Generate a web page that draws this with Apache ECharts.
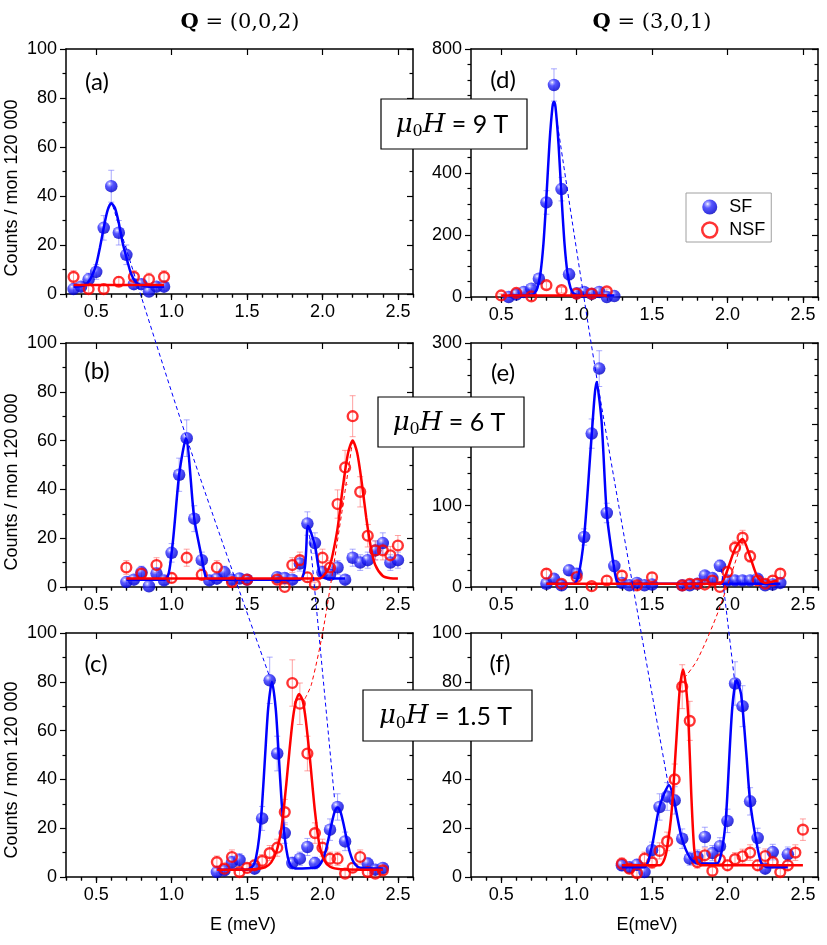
<!DOCTYPE html>
<html>
<head>
<meta charset="utf-8">
<script src="https://cdn.jsdelivr.net/npm/echarts@6/dist/echarts.min.js"></script>
<style>
  html, body { margin: 0; padding: 0; background: #fff; }
  #chart { width: 827px; height: 945px; }
</style>
</head>
<body>
<div id="chart"></div>
<script>
// axes
const xMin = 0.3, xMax = 2.6;
const xMajor = [0.5, 1.0, 1.5, 2.0, 2.5];
const yMaxes = [100, 100, 100, 800, 300, 100];
const yIntervals = [20, 20, 20, 200, 100, 20];
const yMinorSplits = [2, 2, 2, 4, 5, 2];

// [E, counts, error]  -- SF = spin flip (blue), NSF = non spin flip (red)
// (a) Q=(0,0,2), 9 T
const sfA = [[0.35,2,1.5],[0.40,3,1.7],[0.45,6,2.5],[0.50,9,3],[0.55,27,5],[0.60,44,6.5],[0.65,25,5],
  [0.70,16,4],[0.75,4,2],[0.80,4,2],[0.85,1,1],[0.90,3,1.7],[0.95,3,1.7]];
const nsfA = [[0.35,7,2.5],[0.45,2,1.5],[0.55,2,1.5],[0.65,5,2],[0.75,7,2.5],[0.85,6,2.5],[0.95,7,2.5]];
const sfFitA = [[0.35,3],[0.42,3.5],[0.46,6],[0.50,12],[0.525,19],[0.55,27],[0.575,34],[0.60,37],[0.625,35],
  [0.65,29],[0.675,21],[0.70,15],[0.73,8.5],[0.76,5],[0.80,3.5],[0.85,3],[0.95,3]];
const nsfFitA = [[0.35,3.7],[0.95,3.7]];

// (b) Q=(0,0,2), 6 T
const sfB = [[0.70,2,1.5],[0.75,3,1.7],[0.80,6,2.5],[0.85,0.3,1],[0.90,5.5,2.3],[0.95,2.7,1.7],[1.00,14,3.8],
  [1.05,46,6.8],[1.10,61,7.5],[1.15,28,5.3],[1.20,11,3.3],[1.25,2.7,1.7],[1.30,3.4,1.8],[1.35,6,2.5],
  [1.40,3,1.7],[1.45,3.5,1.9],[1.50,3,1.7],[1.70,4,2],[1.75,3.7,1.9],[1.80,3,1.7],[1.85,9.6,3.1],
  [1.90,26,4.8],[1.95,18,4.2],[2.00,6,2.5],[2.05,5,2.2],[2.10,8,2.8],[2.15,3,1.7],[2.20,12,3.5],
  [2.25,10,3.2],[2.30,11,3.3],[2.35,15,3.9],[2.40,18,4.2],[2.45,10,3.2],[2.50,11,3.3]];
const nsfB = [[0.70,8,2.8],[0.80,5.5,2.3],[0.90,9,3],[1.00,3.7,1.9],[1.10,12,3.5],[1.20,5,2.2],[1.30,8,2.8],
  [1.40,2,1.4],[1.50,3,1.7],[1.70,3,1.7],[1.75,0,1],[1.80,9,3],[1.85,11,3.3],[1.90,4,2],[1.95,1,1],
  [2.00,12,3.5],[2.05,8,2.8],[2.10,34,5.8],[2.15,49,7],[2.20,70,8.4],[2.25,39,6.2],[2.30,21,4.6],
  [2.35,15,3.9],[2.40,15,3.9],[2.45,13,3.6],[2.50,17,4.1]];
const sfFitB = [[0.70,3],[0.955,3],[1.00,14],[1.05,46],[1.095,61],[1.15,28],[1.20,12],[1.227,4],[1.26,3],
  [1.85,3],[1.905,25],[1.95,17],[1.985,5],[2.03,3.5],[2.15,3.5]];
const nsfFitB = [[0.70,3.5],[1.98,3.5],[2.03,6.5],[2.05,9],[2.07,14],[2.10,24],[2.135,41],[2.17,55],[2.20,60],
  [2.23,55],[2.26,43],[2.29,28.5],[2.32,16.5],[2.35,9],[2.40,4.5],[2.45,3.6],[2.50,3.5]];

// (c) Q=(0,0,2), 1.5 T
const sfC = [[1.30,2,1.5],[1.35,2.7,1.7],[1.40,6,2.5],[1.45,7,2.6],[1.55,3.4,1.8],[1.60,24,4.9],[1.65,80.6,9.5],
  [1.70,50.6,7.1],[1.75,18,4.2],[1.80,5.7,2.4],[1.85,7.5,2.7],[1.90,12.3,3.5],[1.95,5.7,2.4],[2.05,19.4,4.4],
  [2.10,28.7,5.4],[2.15,14.6,3.8],[2.30,5.5,2.3],[2.35,3,1.7],[2.40,3.7,1.9]];
const nsfC = [[1.30,6.1,2.5],[1.35,3.4,1.8],[1.40,8.2,2.9],[1.45,2,1.4],[1.50,3.7,1.9],[1.55,4.8,2.2],
  [1.60,6.6,2.6],[1.65,9.8,3.1],[1.70,12,3.5],[1.75,26.6,5.2],[1.80,79.5,9.5],[1.85,71,8.5],[1.90,50.6,7.1],
  [1.95,18,4.2],[2.00,12,3.5],[2.05,7.5,2.7],[2.10,7.5,2.7],[2.15,1.4,1.2],[2.20,3.8,1.9],[2.25,8.2,2.9],
  [2.30,2,1.4],[2.35,1.4,1.2],[2.40,2.7,1.6]];
const sfFitC = [[1.30,3],[1.50,3],[1.54,4.6],[1.56,8.1],[1.58,16],[1.60,30],[1.62,50],[1.64,69],[1.665,80],
  [1.69,69],[1.71,50],[1.73,30],[1.75,16],[1.77,8.1],[1.79,4.6],[1.82,3.5],[1.95,3.8],[1.98,4.9],[2.00,6.9],
  [2.02,10.4],[2.04,15.7],[2.06,21.6],[2.08,26.6],[2.10,28.5],[2.12,26.6],[2.14,21.6],[2.16,15.7],
  [2.18,10.4],[2.20,6.9],[2.22,4.9],[2.25,3.8],[2.40,3.5]];
const nsfFitC = [[1.30,3],[1.55,3.2],[1.62,4],[1.66,6],[1.695,10.5],[1.72,17],[1.74,26],[1.76,38],[1.78,51],
  [1.80,63],[1.82,71],[1.845,75],[1.87,72],[1.89,64],[1.916,49],[1.95,27],[1.98,13],[2.01,7],[2.05,4.2],
  [2.12,3.2],[2.40,3]];

// (d) Q=(3,0,1), 9 T
const sfD = [[0.55,0,5],[0.60,8,6],[0.65,16,8],[0.70,27,10],[0.75,59,15],[0.80,305,38],[0.85,684,52],
  [0.90,348,38],[0.95,73,18],[1.00,12,7],[1.05,16,8],[1.10,10,6],[1.15,16,8],[1.20,0,5],[1.25,3,5]];
const nsfD = [[0.50,5,5],[0.60,13,7],[0.70,2,5],[0.80,38,11],[0.90,22,9],[1.00,11,7],[1.10,11,7],[1.20,18,8]];
const sfFitD = [[0.55,5],[0.70,5.5],[0.72,11.5],[0.74,29],[0.76,75],[0.78,171],[0.80,323],[0.82,495],
  [0.84,613],[0.85,630],[0.86,613],[0.88,495],[0.90,323],[0.92,171],[0.94,75],[0.96,29],[0.98,11.5],
  [1.02,5.5],[1.25,5]];
const nsfFitD = [[0.50,5],[1.20,5]];

// (e) Q=(3,0,1), 6 T
const sfE = [[0.80,4,4],[0.85,10,5],[0.90,2,4],[0.95,20.5,6],[1.00,16.4,6],[1.05,61.5,10],[1.10,188.6,18],
  [1.15,268.5,22],[1.20,91,12],[1.25,25.8,7],[1.30,5,4],[1.35,2,4],[1.40,5,4],[1.45,2,4],[1.50,3,4],
  [1.70,2,4],[1.75,2,4],[1.80,4,4],[1.85,14,5],[1.90,11,5],[1.95,26,7],[2.00,8,5],[2.05,8,5],[2.10,8,5],
  [2.15,8,5],[2.20,10,5],[2.25,2,4],[2.30,3,4],[2.35,5,4]];
const nsfE = [[0.80,16.4,6],[0.90,4,4],[1.00,12.3,5],[1.10,1,3],[1.20,8,5],[1.30,14,5],[1.40,2,4],[1.50,12,5],
  [1.70,2,4],[1.75,4,4],[1.80,4,4],[1.85,3,4],[1.90,8,5],[1.95,0,3],[2.00,18.5,6],[2.05,48.4,8],
  [2.10,60.7,9],[2.15,37.7,7],[2.20,8,5],[2.25,4,4],[2.30,8,5],[2.35,16.4,6]];
const sfFitE = [[0.80,4],[0.98,4],[1.01,12],[1.05,62],[1.10,187],[1.132,252],[1.165,205],[1.20,90],
  [1.243,30],[1.265,8],[1.29,4],[2.35,4]];
const nsfFitE = [[0.80,4],[1.95,4],[1.99,16],[2.05,47],[2.10,59],[2.15,37],[2.20,12],[2.25,5],[2.33,8]];

// (f) Q=(3,0,1), 1.5 T
const sfF = [[1.30,4.8,2.2],[1.35,4,2],[1.40,5,2.2],[1.45,2,2],[1.50,11,3.3],[1.55,28.7,5.4],[1.60,33,5.7],
  [1.65,31.4,5.6],[1.70,15.7,4],[1.75,7.5,2.7],[1.80,8.2,2.9],[1.85,16.4,4],[1.90,9.8,3.1],[1.95,12.6,3.5],
  [2.00,23,4.8],[2.05,79.3,8.9],[2.10,70,8.4],[2.15,31,5.6],[2.20,16,4],[2.25,3.4,1.8],[2.30,10.2,3.2],
  [2.40,9.3,3]];
const nsfF = [[1.30,5.5,2.3],[1.35,3.4,1.8],[1.40,1.6,1.3],[1.45,7.5,2.7],[1.50,6,2.4],[1.55,10.7,3.3],
  [1.60,14.6,3.8],[1.65,40,6.3],[1.70,78,9],[1.75,64,8],[1.80,6.1,2.5],[1.85,8.9,3],[1.90,2.5,1.6],
  [1.95,7.1,2.7],[2.00,4.8,2.2],[2.05,7.3,2.7],[2.10,8.5,2.9],[2.15,10,3.2],[2.20,4.8,2.2],[2.25,8.6,2.9],
  [2.30,6.1,2.5],[2.35,2,1.4],[2.40,4.8,2.2],[2.45,10,3.2],[2.50,19.4,4.4]];
const sfFitF = [[1.30,4],[1.45,4],[1.497,12],[1.55,29],[1.613,37.6],[1.65,30],[1.695,16.4],[1.75,8],
  [1.80,5.5],[1.93,5.5],[1.96,10],[1.99,24.6],[2.03,68],[2.06,80.6],[2.09,75],[2.125,50.6],[2.15,31],
  [2.19,15],[2.225,5.5],[2.27,4],[2.40,4]];
const nsfFitF = [[1.30,4.8],[1.55,4.8],[1.58,7],[1.60,12],[1.63,27],[1.66,55],[1.685,78],[1.706,85],
  [1.725,78],[1.74,66],[1.76,34],[1.78,11],[1.80,6],[1.83,4.8],[2.50,4.8]];

// dashed guides: [panel, E, counts]
const linkSfLeft1 = [[0,0.61,36],[1,1.10,61],[2,1.65,82]];
const linkSfLeft2 = [[1,1.91,24],[2,2.08,32]];
const linkNsfLeft = [[1,2.20,60],[2,2.015,105],[2,1.927,79],[2,1.883,73]];
const linkSfRight1 = [[3,0.86,600],[4,1.14,250],[5,1.61,37]];
const linkSfRight2 = [[4,1.96,22],[5,2.05,79]];
const linkNsfRight = [[4,2.10,58],[5,1.94,109],[5,1.80,89],[5,1.72,82]];

const panelNames = ['(a)', '(b)', '(c)', '(d)', '(e)', '(f)'];
const fieldTexts = ['9 T', '6 T', '1.5 T'];

const panels = [
  [sfA, nsfA, sfFitA, nsfFitA], [sfB, nsfB, sfFitB, nsfFitB], [sfC, nsfC, sfFitC, nsfFitC],
  [sfD, nsfD, sfFitD, nsfFitD], [sfE, nsfE, sfFitE, nsfFitE], [sfF, nsfF, sfFitF, nsfFitF]
];

const grids = [
  { left: 66, top: 49, width: 347, height: 245 },
  { left: 66, top: 343, width: 347, height: 244 },
  { left: 66, top: 633, width: 347, height: 244 },
  { left: 471, top: 49, width: 347, height: 248 },
  { left: 471, top: 343, width: 347, height: 244 },
  { left: 471, top: 633, width: 347, height: 244 }
];

const FONT = 'Liberation Sans, Arial, sans-serif';
const axisLine = { show: true, onZero: false, lineStyle: { color: '#000', width: 1.5 } };
const tickStyle = { color: '#000', width: 1.2 };

const sphere = new echarts.graphic.RadialGradient(0.36, 0.3, 0.8, [
  { offset: 0, color: '#ffffff' },
  { offset: 0.12, color: '#a0a0ff' },
  { offset: 0.35, color: '#2c2cff' },
  { offset: 0.8, color: '#0000d6' },
  { offset: 1, color: '#000090' }
]);

const xAxes = [];
const yAxes = [];
grids.forEach(function (g, i) {
  const base = { gridIndex: i, type: 'value', min: xMin, max: xMax, splitLine: { show: false } };
  xAxes.push(Object.assign({}, base, {
    position: 'bottom', axisLine: axisLine,
    axisTick: { show: true, length: 6, customValues: xMajor, lineStyle: tickStyle },
    axisLabel: { show: true, customValues: xMajor, formatter: function (v) { return v.toFixed(1); },
      margin: 9, fontSize: 18, color: '#000', fontFamily: FONT }
  }));
  xAxes.push(Object.assign({}, base, {
    position: 'bottom', interval: 0.1, axisLine: { show: false },
    axisTick: { show: true, length: 3.5, lineStyle: tickStyle }, axisLabel: { show: false }
  }));
  xAxes.push(Object.assign({}, base, {
    position: 'top', axisLine: axisLine,
    axisTick: { show: true, inside: true, length: 6, customValues: xMajor, lineStyle: tickStyle },
    axisLabel: { show: false }
  }));
  xAxes.push(Object.assign({}, base, {
    position: 'top', interval: 0.1, axisLine: { show: false },
    axisTick: { show: true, inside: true, length: 3.5, lineStyle: tickStyle }, axisLabel: { show: false }
  }));
  const ybase = { gridIndex: i, type: 'value', min: 0, max: yMaxes[i], interval: yIntervals[i],
    splitLine: { show: false }, axisLine: axisLine };
  yAxes.push(Object.assign({}, ybase, {
    position: 'left',
    axisTick: { show: true, length: 6, lineStyle: tickStyle },
    minorTick: { show: true, splitNumber: yMinorSplits[i], length: 3.5, lineStyle: tickStyle },
    axisLabel: { show: true, margin: 9, fontSize: 18, color: '#000', fontFamily: FONT }
  }));
  yAxes.push(Object.assign({}, ybase, {
    position: 'right',
    axisTick: { show: true, inside: true, length: 6, lineStyle: tickStyle },
    minorTick: { show: true, splitNumber: yMinorSplits[i], length: 3.5, lineStyle: tickStyle },
    axisLabel: { show: false }
  }));
});

function errBars(pts, xi, yi, color) {
  return {
    type: 'custom', xAxisIndex: xi, yAxisIndex: yi, z: 2, silent: true, clip: true,
    data: pts.map(function (d) { return [d[0], d[1] - d[2], d[1] + d[2]]; }),
    encode: { x: 0, y: [1, 2] },
    renderItem: function (params, api) {
      const top = api.coord([api.value(0), api.value(2)]);
      const bot = api.coord([api.value(0), api.value(1)]);
      const w = 3;
      const st = { stroke: color, lineWidth: 1 };
      return { type: 'group', children: [
        { type: 'line', shape: { x1: top[0], y1: top[1], x2: bot[0], y2: bot[1] }, style: st },
        { type: 'line', shape: { x1: top[0] - w, y1: top[1], x2: top[0] + w, y2: top[1] }, style: st },
        { type: 'line', shape: { x1: bot[0] - w, y1: bot[1], x2: bot[0] + w, y2: bot[1] }, style: st }
      ] };
    }
  };
}

const series = [];
panels.forEach(function (p, i) {
  const xi = i * 4, yi = i * 2;
  series.push(errBars(p[0], xi, yi, 'rgba(100,100,255,0.55)'));
  series.push(errBars(p[1], xi, yi, 'rgba(255,100,100,0.6)'));
  series.push({
    type: 'scatter', name: 'SF', xAxisIndex: xi, yAxisIndex: yi, z: 3,
    data: p[0].map(function (d) { return [d[0], d[1]]; }),
    symbol: 'circle', symbolSize: 12.5, itemStyle: { color: sphere }
  });
  series.push({
    type: 'scatter', name: 'NSF', xAxisIndex: xi, yAxisIndex: yi, z: 4,
    data: p[1].map(function (d) { return [d[0], d[1]]; }),
    symbol: 'circle', symbolSize: 9.8,
    itemStyle: { color: 'rgba(0,0,0,0)', borderColor: '#ff0000', borderWidth: 2.4 }
  });
  series.push({
    type: 'line', name: 'SF fit', xAxisIndex: xi, yAxisIndex: yi, z: 5, data: p[2],
    showSymbol: false, smooth: 0.25, lineStyle: { color: '#0000ff', width: 2.5 }, itemStyle: { color: '#0000ff' }
  });
  series.push({
    type: 'line', name: 'NSF fit', xAxisIndex: xi, yAxisIndex: yi, z: 5, data: p[3],
    showSymbol: false, smooth: 0.25, lineStyle: { color: '#ff0000', width: 2.5 }, itemStyle: { color: '#ff0000' }
  });
});

const chart = echarts.init(document.getElementById('chart'));
chart.setOption({
  animation: false,
  backgroundColor: '#fff',
  grid: grids,
  xAxis: xAxes,
  yAxis: yAxes,
  legend: {
    left: 686, top: 193, orient: 'vertical',
    data: [
      { name: 'SF', icon: 'circle' },
      { name: 'NSF', icon: 'circle', itemStyle: { color: 'rgba(0,0,0,0)', borderColor: '#ff0000', borderWidth: 2.5 } }
    ],
    itemWidth: 15, itemHeight: 15, itemGap: 5,
    padding: [5, 6, 3, 15],
    borderColor: '#a0a0a0', borderWidth: 1, backgroundColor: '#fff',
    textStyle: { fontFamily: FONT, fontSize: 18, color: '#000', padding: [0, 0, 0, 7] }
  },
  series: series
});

// overlay: guides, boxes, texts
function toPx(p) {
  return chart.convertToPixel({ xAxisIndex: p[0] * 4, yAxisIndex: p[0] * 2 }, [p[1], p[2]]);
}
function guide(pts, color) {
  return {
    type: 'polyline', z: 20, silent: true,
    shape: { points: pts.map(toPx), smooth: pts.length > 2 ? 0.3 : 0 },
    style: { stroke: color, lineWidth: 1, lineDash: [4, 3], fill: null }
  };
}
const boxRects = [[381, 99, 146, 50], [378, 397, 146, 50], [363, 690, 169, 51]];
const graphics = [
  guide(linkSfLeft1, '#0000ff'), guide(linkSfLeft2, '#0000ff'), guide(linkNsfLeft, '#ff0000'),
  guide(linkSfRight1, '#0000ff'), guide(linkSfRight2, '#0000ff'), guide(linkNsfRight, '#ff0000')
];
const boxRich = {
  i: { fontFamily: 'DejaVu Serif', fontStyle: 'italic', fontSize: 26, color: '#000' },
  s: { fontFamily: 'DejaVu Serif', fontSize: 16, color: '#000', verticalAlign: 'bottom', lineHeight: 30 },
  t: { fontFamily: 'Lato', fontSize: 25, color: '#000' }
};
boxRects.forEach(function (r, k) {
  graphics.push({
    type: 'rect', z: 100, zlevel: 1, silent: true,
    shape: { x: r[0], y: r[1], width: r[2], height: r[3] },
    style: { fill: '#ffffff', stroke: '#000', lineWidth: 1.2 }
  });
  graphics.push({
    type: 'text', z: 101, zlevel: 1, silent: true, x: r[0] + r[2] / 2 - 2, y: r[1] + r[3] / 2 + 1,
    style: { text: '{i|μ}{s|0}{i|H}{t| = ' + fieldTexts[k] + '}', rich: boxRich, align: 'center', verticalAlign: 'middle' }
  });
});
const labelPos = [[97, 82], [97, 371], [96, 664], [503, 80], [503, 373], [500, 664]];
panelNames.forEach(function (t, k) {
  graphics.push({ type: 'text', z: 50, x: labelPos[k][0], y: labelPos[k][1],
    style: { text: t, fontFamily: 'Lato', fontSize: 24, fill: '#000', align: 'center', verticalAlign: 'middle' } });
});
const titleRich = {
  q: { fontFamily: 'DejaVu Serif', fontWeight: 'bold', fontSize: 21, color: '#000' },
  n: { fontFamily: 'DejaVu Serif', fontSize: 21, color: '#000' }
};
graphics.push({ type: 'text', z: 50, x: 240, y: 23,
  style: { text: '{q|Q}{n| = (0,0,2)}', rich: titleRich, align: 'center', verticalAlign: 'middle' } });
graphics.push({ type: 'text', z: 50, x: 652, y: 23,
  style: { text: '{q|Q}{n| = (3,0,1)}', rich: titleRich, align: 'center', verticalAlign: 'middle' } });
[188, 482, 770].forEach(function (yc) {
  graphics.push({ type: 'text', z: 50, x: 12, y: yc, rotation: Math.PI / 2,
    style: { text: 'Counts / mon 120 000', fontFamily: FONT, fontSize: 18, fill: '#000', align: 'center', verticalAlign: 'middle' } });
});
graphics.push({ type: 'text', z: 50, x: 243, y: 925,
  style: { text: 'E (meV)', fontFamily: FONT, fontSize: 18, fill: '#000', align: 'center', verticalAlign: 'middle' } });
graphics.push({ type: 'text', z: 50, x: 647, y: 925,
  style: { text: 'E(meV)', fontFamily: FONT, fontSize: 18, fill: '#000', align: 'center', verticalAlign: 'middle' } });

chart.setOption({ graphic: graphics });
</script>
</body>
</html>
